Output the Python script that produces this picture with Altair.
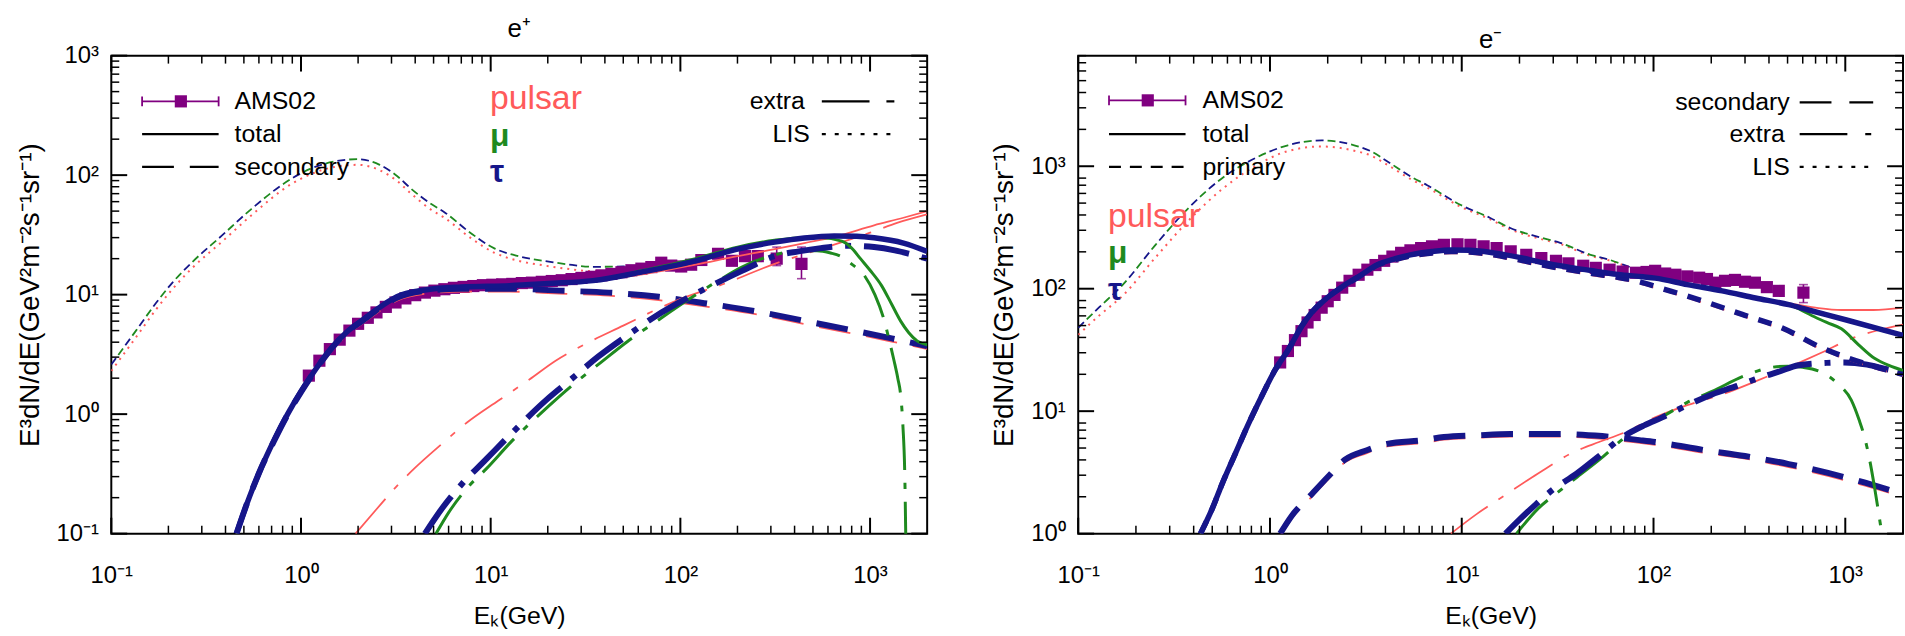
import altair as alt
import pandas as pd

FONT = "Liberation Sans"
RED = "#ff5a5a"
GREEN = "#1f8a1f"
NAVY = "#16168a"
PURPLE = "#800080"

# ======================= e+ panel data =======================
pos_ams_E = [1.1, 1.25, 1.42, 1.6, 1.8, 2.0, 2.25, 2.5, 2.8, 3.15, 3.55, 4.0, 4.5, 5.05, 5.7, 6.4,
             7.2, 8.1, 9.1, 10.2, 11.5, 13.0, 14.6, 16.5, 18.6, 21.0, 23.7, 26.7, 30.1, 34.0, 38.4,
             43.3, 48.9, 55.2, 62.3, 70.3, 79.3, 89.5, 101, 114, 129, 158, 187, 219, 256, 322, 435]
pos_ams_V = [2.1, 2.8, 3.5, 4.2, 5.0, 5.7, 6.4, 7.1, 7.9, 8.6, 9.3, 9.9, 10.4, 10.8, 11.1, 11.4,
             11.6, 11.8, 12.0, 12.1, 12.2, 12.3, 12.5, 12.6, 12.8, 13.0, 13.2, 13.5, 13.8, 14.1, 14.5,
             14.9, 15.4, 16.0, 16.5, 17.0, 18.5, 17.5, 17.2, 17.8, 19.5, 22.0, 19.2, 21.0, 21.0, 20.0, 18.1]
pos_err_E = [129, 158, 187, 219, 256, 322, 435]
pos_err_lo = [18.4, 20.6, 17.8, 19.2, 19.0, 17.5, 13.6]
pos_err_hi = [20.6, 23.4, 20.6, 22.8, 23.0, 25.0, 25.0]

pos_tot_tau_E = [0.457, 0.52, 0.6, 0.73, 0.85, 1.0, 1.2, 1.44, 1.75, 2.16, 2.53, 3.2, 4.6, 7.0, 12.6,
                 20, 34.6, 63, 120, 200, 314, 450, 647, 850, 1050, 1500, 2000]
pos_tot_tau_V = [0.1, 0.18, 0.32, 0.63, 1.0, 1.55, 2.4, 3.55, 4.9, 6.3, 7.6, 9.6, 11.0, 11.6, 11.9,
                 12.4, 13.1, 15.5, 19.2, 24, 27.5, 29.8, 31, 30.8, 29.9, 27, 23]
pos_tot_mu_E = [0.457, 0.52, 0.6, 0.73, 0.85, 1.0, 1.2, 1.44, 1.75, 2.16, 2.53, 3.2, 4.6, 7.0, 12.6,
                20, 34.6, 63, 120, 200, 314, 450, 550, 710, 800, 890, 1000, 1150, 1300, 1450, 1600, 1770, 2000]
pos_tot_mu_V = [0.1, 0.18, 0.32, 0.63, 1.0, 1.55, 2.4, 3.55, 4.9, 6.3, 7.6, 9.6, 11.0, 11.6, 11.9,
                12.4, 13.1, 15.9, 20, 25, 28.5, 30, 30, 28, 24.5, 20, 16, 11.9, 8.3, 6.0, 4.8, 4.1, 3.8]
pos_tot_pul_E = [0.457, 0.52, 0.6, 0.73, 0.85, 1.0, 1.2, 1.44, 1.75, 2.16, 2.53, 3.2, 4.6, 7.0, 12.6,
                 20, 34.6, 63, 120, 200, 314, 450, 650, 1050, 1500, 2000]
pos_tot_pul_V = [0.1, 0.18, 0.32, 0.63, 1.0, 1.55, 2.4, 3.55, 4.9, 6.3, 7.6, 9.6, 11.0, 11.6, 11.9,
                 12.4, 13.1, 14.8, 17.8, 21, 24, 27, 30.5, 38, 44, 50]

pos_sec_E = [0.457, 0.52, 0.6, 0.73, 0.85, 1.0, 1.2, 1.44, 1.75, 2.16, 2.53, 3.2, 4.6, 7.0, 12.6,
             23, 42, 77, 140, 257, 468, 824, 1300, 2000]
pos_sec_tau_V = [0.1, 0.18, 0.32, 0.62, 0.99, 1.53, 2.37, 3.5, 4.85, 6.2, 7.5, 9.4, 10.8, 11.2, 11.2,
                 10.8, 10.4, 9.6, 8.4, 7.2, 5.96, 5.0, 4.3, 3.7]
pos_sec_pul_V = [0.1, 0.17, 0.3, 0.59, 0.94, 1.45, 2.25, 3.3, 4.6, 5.9, 7.1, 8.9, 10.2, 10.6, 10.6,
                 10.2, 9.8, 9.0, 7.9, 6.8, 5.6, 4.7, 4.05, 3.5]

pos_ext_tau_E = [4.5, 5.5, 7.2, 9.2, 13, 19.6, 27, 37, 52, 74, 115, 160, 211, 314, 420, 550, 760,
                 1050, 1350, 1620, 2000]
pos_ext_tau_V = [0.1, 0.16, 0.27, 0.4, 0.7, 1.31, 2.0, 3.04, 4.5, 6.6, 9.8, 12.8, 15.8, 21, 23, 24.5,
                 25.6, 25, 23.5, 21.9, 20]
pos_ext_mu_E = [5.15, 6, 7.5, 9.5, 13, 20, 27, 38, 52, 75, 115, 160, 211, 314, 420, 525, 620, 710,
                800, 935, 1060, 1180, 1260, 1340, 1400, 1450, 1490, 1525, 1545]
pos_ext_mu_V = [0.1, 0.15, 0.24, 0.35, 0.6, 1.15, 1.75, 2.7, 4.0, 6.0, 9.5, 13.2, 17, 21.5, 23.3, 23.3,
                22.3, 20.7, 18, 14.4, 10, 6.3, 4.2, 2.77, 2.0, 1.44, 0.8, 0.3, 0.08]
pos_ext_pul_E = [1.94, 2.5, 3.2, 3.95, 5.5, 7.5, 11, 16, 22, 33, 50, 72, 102, 172, 314, 500, 710,
                 1000, 1400, 2000]
pos_ext_pul_V = [0.1, 0.16, 0.25, 0.35, 0.56, 0.85, 1.3, 1.95, 2.8, 4.0, 5.5, 7.3, 9.3, 12.4, 18.1,
                 23, 27.5, 33, 40, 47]

pos_lis_E = [0.1, 0.135, 0.172, 0.209, 0.265, 0.381, 0.547, 0.887, 1.2, 1.5, 1.99, 2.6, 3.22, 3.77,
             4.8, 5.7, 7.8, 10.4, 14, 18.9, 25, 34.6, 50, 63, 94, 120]
pos_lis_V = [2.6, 5.0, 8.5, 12.5, 18.5, 31, 52, 93, 118, 130, 136, 122, 98, 78, 58, 49, 33, 24.5, 21,
             19.2, 18, 17.1, 17.2, 17.5, 18.1, 19.2]
pos_lis_pul_V = [2.3, 4.4, 7.5, 11, 16.5, 27.5, 46, 84, 106, 117, 122, 110, 89, 71, 52, 44, 30, 22.5,
                 19.2, 17.6, 16.5, 15.7, 15.6, 15.8, 16.8, 17.8]

# ======================= e- panel data =======================
ele_ams_E = [1.13, 1.24, 1.35, 1.46, 1.57, 1.71, 1.86, 2.0, 2.17, 2.38, 2.6, 2.9, 3.22, 3.55, 3.94,
             4.35, 4.83, 5.4, 6.14, 7.0, 8.07, 9.5, 11.1, 13, 15.2, 18, 21.7, 26, 31, 36, 43, 50, 59,
             69, 81, 92, 102, 115, 130, 150, 173, 190, 210, 236, 266, 300, 338, 390, 450, 605]
ele_ams_V = [25, 31, 38, 45, 53, 61, 70, 79, 89, 102, 116, 130, 143, 156, 169, 183, 196, 206, 215, 222,
             228, 230, 228, 222, 215, 202, 189, 178, 169, 161, 154, 148, 143, 138, 135, 137, 140, 133,
             130, 126, 123, 120, 112, 116, 118, 114, 112, 103, 96, 93]
ele_err_E = [390, 450, 605]
ele_err_lo = [98, 90, 77]
ele_err_hi = [108, 102, 108]

ele_tot_E = [0.434, 0.5, 0.563, 0.66, 0.77, 0.9, 1.06, 1.25, 1.47, 1.65, 2.0, 2.45, 3.0, 3.63, 4.5,
             5.4, 7.0, 8.8, 11, 14.7, 20, 26.6, 36, 48, 65, 88, 102, 150, 228, 340, 507, 643, 1037,
             1500, 2000]
ele_tot_tau_V = [1, 1.6, 2.55, 4.5, 7.8, 13, 21.5, 32, 50, 64, 85, 107, 130, 157, 176, 189, 201, 207,
                 206, 196, 180, 163, 150, 140, 131, 125, 122, 108, 96, 84, 74, 67, 55, 47, 41.5]
ele_tot_mu_E = [0.434, 0.5, 0.563, 0.66, 0.77, 0.9, 1.06, 1.25, 1.47, 1.65, 2.0, 2.45, 3.0, 3.63, 4.5,
                5.4, 7.0, 8.8, 11, 14.7, 20, 26.6, 36, 48, 65, 88, 102, 150, 228, 340, 507, 600, 690,
                800, 955, 1170, 1420, 1700, 2000]
ele_tot_mu_V = [1, 1.6, 2.55, 4.5, 7.8, 13, 21.5, 32, 50, 64, 85, 107, 130, 157, 176, 189, 201, 207,
                206, 196, 180, 163, 150, 140, 131, 125, 122, 108, 96, 84, 74, 66, 59, 53, 47, 35, 27,
                23.5, 21.5]
ele_tot_pul_E = [0.434, 0.5, 0.563, 0.66, 0.77, 0.9, 1.06, 1.25, 1.47, 1.65, 2.0, 2.45, 3.0, 3.63, 4.5,
                 5.4, 7.0, 8.8, 11, 14.7, 20, 26.6, 36, 48, 65, 88, 102, 150, 228, 340, 507, 700, 955,
                 1400, 2000]
ele_tot_pul_V = [1, 1.6, 2.55, 4.5, 7.8, 13, 21.5, 32, 50, 64, 85, 107, 130, 157, 176, 189, 201, 207,
                 206, 196, 180, 163, 150, 140, 131, 125, 122, 108, 96, 85, 76, 70, 67, 67, 70]

ele_pri_E = [0.434, 0.5, 0.563, 0.66, 0.77, 0.9, 1.06, 1.25, 1.47, 1.65, 2.0, 2.45, 3.0, 3.63, 4.5,
             5.4, 7.0, 8.8, 11, 14.7, 20, 26.6, 36, 48, 65, 84.5, 107, 180, 290, 466, 751, 1320, 2000]
ele_pri_tau_V = [1, 1.6, 2.55, 4.5, 7.8, 13, 21.5, 32, 50, 64, 85, 106, 129, 155, 173, 185, 196, 201,
                 199, 189, 172, 156, 143, 133, 124, 114, 102, 79.6, 61.7, 48, 33, 24, 20]
ele_pri_pul_V = [0.97, 1.55, 2.47, 4.4, 7.6, 12.6, 20.9, 31, 48.5, 62, 82.5, 103, 125, 150, 168, 179,
                 190, 195, 193, 183, 167, 151, 139, 129, 120, 110.5, 99, 77, 60, 46.5, 32, 23.3, 19.4]

ele_sec_E = [1.13, 1.3, 1.65, 2.0, 2.45, 3.2, 4.08, 6.35, 8.07, 12, 17.9, 32.6, 54, 84.5, 102, 186,
             300, 507, 1115, 2000]
ele_sec_tau_V = [1, 1.4, 2.1, 2.9, 4.0, 4.8, 5.4, 5.8, 6.15, 6.35, 6.5, 6.5, 6.26, 5.8, 5.6, 4.8, 4.3,
                 3.7, 2.75, 2.1]
ele_sec_pul_V = [0.95, 1.33, 2.0, 2.75, 3.8, 4.55, 5.15, 5.5, 5.85, 6.05, 6.2, 6.2, 5.95, 5.5, 5.3,
                 4.55, 4.1, 3.5, 2.6, 2.0]

ele_ext_tau_E = [16.9, 20, 24.5, 30, 39.5, 52, 69, 90, 111, 150, 202, 270, 338, 450, 570, 800, 990,
                 1300, 1670, 2000]
ele_ext_tau_V = [1, 1.3, 1.75, 2.3, 3.07, 4.3, 6.15, 7.7, 8.9, 11.2, 13.7, 16, 18.2, 21, 23.7, 24.8,
                 25, 24, 21.9, 20.8]
ele_ext_mu_E = [19.3, 25, 32, 40, 55, 70, 90, 111, 150, 202, 300, 414, 500, 600, 751, 920, 1075, 1180,
                1260, 1340, 1420, 1500, 1540, 1580]
ele_ext_mu_V = [1, 1.6, 2.2, 2.9, 4.3, 6.0, 7.6, 9.0, 11.8, 14.5, 19.5, 22.8, 23.3, 22.8, 20.8, 16.6,
                12.3, 8.5, 6.15, 4.0, 2.4, 1.4, 1.07, 0.8]
ele_ext_pul_E = [8.77, 12, 17.1, 25, 38, 52, 69, 102, 150, 228, 340, 507, 750, 1115, 1500, 2000]
ele_ext_pul_V = [1, 1.45, 2.1, 3.1, 4.6, 5.6, 6.6, 8.9, 11.2, 13.7, 17.5, 22.8, 30, 40, 46, 51]

ele_lis_E = [0.1, 0.128, 0.171, 0.253, 0.376, 0.563, 0.836, 1.24, 1.86, 2.75, 3.37, 4.08, 5.45, 6.6,
             9.9, 14, 17.9, 25, 32.6, 46.5, 59, 80.7, 102]
ele_lis_V = [48, 70, 108, 228, 456, 799, 1162, 1483, 1627, 1483, 1324, 1100, 820, 700, 482, 380, 313,
             265, 237, 190, 172, 145, 132]
ele_lis_pul_V = [42, 60, 88, 180, 360, 650, 1000, 1330, 1450, 1340, 1220, 1030, 780, 670, 465, 370, 305,
                 258, 232, 186, 170, 143, 130]

# axis tick values
x_major = [0.1, 1, 10, 100, 1000]
x_minor = [m * d for d in (0.1, 1, 10, 100) for m in range(2, 10)]
yL_major = [0.1, 1, 10, 100, 1000]
yL_minor = [m * d for d in (0.1, 1, 10, 100) for m in range(2, 10)]
yR_major = [1, 10, 100, 1000]
yR_minor = [m * d for d in (1, 10, 100, 1000) for m in range(2, 9)]

LBL = ("datum.value < 0.5 ? '10⁻¹' : datum.value < 5 ? '10⁰' : datum.value < 50 ? '10¹' : "
       "datum.value < 500 ? '10²' : '10³'")
YTITLE = "E³dN/dE(GeV²m⁻²s⁻¹sr⁻¹)"
XTITLE = "Eₖ(GeV)"

one = pd.DataFrame({"k": [0]})

DASH_SEC = [32, 16]
DASH_EXT = [46, 13, 6, 13]
DASH_PRI = [14, 11]
DASH_LIS = [8, 16]
DASH_DOT = [2, 5]


def make_panel(W, H, ydom, ymaj, ymin, title, build):
    xs = alt.Scale(type="log", domain=[0.1, 2000], nice=False)
    ys = alt.Scale(type="log", domain=ydom, nice=False)
    xax = alt.Axis(values=x_major, labelExpr=LBL, title=XTITLE, grid=False, ticks=False,
                   domain=False, labelFont=FONT, labelFontSize=24, labelPadding=30,
                   labelColor="black", labelFlush=False, labelOverlap=False,
                   titleFont=FONT, titleFontSize=25, titleFontWeight="normal",
                   titleColor="black", titlePadding=16)
    yax = alt.Axis(values=ymaj, labelExpr=LBL, title=YTITLE, grid=False, ticks=False,
                   domain=False, labelFont=FONT, labelFontSize=24, labelPadding=13,
                   labelColor="black", labelFlush=False, labelOverlap=False,
                   titleFont=FONT, titleFontSize=28, titleFontWeight="normal",
                   titleColor="black", titlePadding=12)

    def X(f):
        return alt.X(f, scale=xs, axis=xax)

    def Y(f):
        return alt.Y(f, scale=ys, axis=yax)

    def line(E, V, color, width, dash=None, offset=None):
        kw = dict(color=color, strokeWidth=width, clip=True, interpolate="monotone",
                  strokeCap="butt")
        if dash:
            kw["strokeDash"] = dash
        if offset:
            kw["strokeDashOffset"] = offset
        return alt.Chart(pd.DataFrame({"E": E, "V": V})).mark_line(**kw).encode(
            x=X("E:Q"), y=Y("V:Q"))

    def data(E, V, eE, lo, hi):
        sq = alt.Chart(pd.DataFrame({"E": E, "V": V})).mark_square(
            size=150, color=PURPLE, opacity=1, clip=True).encode(x=X("E:Q"), y=Y("V:Q"))
        edf = pd.DataFrame({"E": eE, "lo": lo, "hi": hi})
        bar = alt.Chart(edf).mark_rule(color=PURPLE, strokeWidth=1.6).encode(
            x=X("E:Q"), y=Y("lo:Q"), y2="hi:Q")
        c1 = alt.Chart(edf).mark_tick(orient="horizontal", size=9, thickness=1.6,
                                      color=PURPLE).encode(x=X("E:Q"), y=Y("lo:Q"))
        c2 = alt.Chart(edf).mark_tick(orient="horizontal", size=9, thickness=1.6,
                                      color=PURPLE).encode(x=X("E:Q"), y=Y("hi:Q"))
        return [sq, bar, c1, c2]

    def ticks():
        out = []
        for vals, L, w in ((x_major, 16, 2), (x_minor, 8, 1.5)):
            d = alt.Chart(pd.DataFrame({"t": vals})).mark_rule(color="black", strokeWidth=w)
            out.append(d.encode(x=X("t:Q"), y=alt.value(0), y2=alt.value(L)))
            out.append(d.encode(x=X("t:Q"), y=alt.value(H), y2=alt.value(H - L)))
        for vals, L, w in ((ymaj, 16, 2), (ymin, 8, 1.5)):
            d = alt.Chart(pd.DataFrame({"t": vals})).mark_rule(color="black", strokeWidth=w)
            out.append(d.encode(y=Y("t:Q"), x=alt.value(0), x2=alt.value(L)))
            out.append(d.encode(y=Y("t:Q"), x=alt.value(W), x2=alt.value(W - L)))
        return out

    layers = build(line, data) + ticks()
    return alt.layer(*layers).properties(
        width=W, height=H,
        title=alt.TitleParams(title, font=FONT, fontSize=26, fontWeight="normal",
                              color="black", offset=2))


def ltext(txt, x, y, color="black", size=25, align="left", weight="normal"):
    return alt.Chart(one).mark_text(text=txt, font=FONT, fontSize=size, color=color, align=align,
                                    baseline="middle", fontWeight=weight).encode(
        x=alt.value(x), y=alt.value(y))


def lline(x1, x2, y, dash=None, width=2.2, color="black"):
    kw = dict(color=color, strokeWidth=width, strokeCap="butt")
    if dash:
        kw["strokeDash"] = dash
    return alt.Chart(one).mark_rule(**kw).encode(x=alt.value(x1), x2=alt.value(x2), y=alt.value(y))


def ams_legend(y, xt):
    return [
        lline(31, 108, y, width=1.8, color=PURPLE),
        alt.Chart(one).mark_rule(color=PURPLE, strokeWidth=1.8).encode(
            x=alt.value(31), y=alt.value(y - 5), y2=alt.value(y + 5)),
        alt.Chart(one).mark_rule(color=PURPLE, strokeWidth=1.8).encode(
            x=alt.value(108), y=alt.value(y - 5), y2=alt.value(y + 5)),
        alt.Chart(one).mark_square(size=150, color=PURPLE, opacity=1).encode(
            x=alt.value(70), y=alt.value(y)),
        ltext("AMS02", xt, y),
    ]


def build_left(line, data):
    L = []
    L.append(line(pos_lis_E, pos_lis_pul_V, RED, 2, DASH_DOT))
    L.append(line(pos_lis_E, pos_lis_V, GREEN, 1.8, DASH_LIS, 12))
    L.append(line(pos_lis_E, pos_lis_V, NAVY, 1.8, DASH_LIS))
    L += data(pos_ams_E, pos_ams_V, pos_err_E, pos_err_lo, pos_err_hi)
    L.append(line(pos_sec_E, pos_sec_pul_V, RED, 1.8, DASH_SEC))
    L.append(line(pos_sec_E, pos_sec_tau_V, NAVY, 6, DASH_SEC))
    L.append(line(pos_ext_pul_E, pos_ext_pul_V, RED, 1.8, DASH_EXT))
    L.append(line(pos_ext_mu_E, pos_ext_mu_V, GREEN, 3, DASH_EXT))
    L.append(line(pos_ext_tau_E, pos_ext_tau_V, NAVY, 6, DASH_EXT))
    L.append(line(pos_tot_pul_E, pos_tot_pul_V, RED, 1.8))
    L.append(line(pos_tot_mu_E, pos_tot_mu_V, GREEN, 3))
    L.append(line(pos_tot_tau_E, pos_tot_tau_V, NAVY, 5.5))
    # legend
    L += ams_legend(46, 124)
    L += [lline(31, 108, 79), ltext("total", 124, 79),
          lline(31, 108, 112, DASH_SEC), ltext("secondary", 124, 112),
          ltext("pulsar", 381, 44, RED, 34), ltext("μ", 381, 81, GREEN, 32, weight="bold"),
          ltext("τ", 381, 117, NAVY, 32, weight="bold"),
          ltext("extra", 698, 46, align="right"), lline(715, 788, 46, [48, 17, 8, 17]),
          ltext("LIS", 703, 79, align="right"), lline(715, 788, 79, [4, 9])]
    return L


def build_right(line, data):
    L = []
    L.append(line(ele_lis_E, ele_lis_pul_V, RED, 2, DASH_DOT))
    L.append(line(ele_lis_E, ele_lis_V, GREEN, 1.8, DASH_LIS, 12))
    L.append(line(ele_lis_E, ele_lis_V, NAVY, 1.8, DASH_LIS))
    L += data(ele_ams_E, ele_ams_V, ele_err_E, ele_err_lo, ele_err_hi)
    L.append(line(ele_sec_E, ele_sec_pul_V, RED, 1.8, DASH_SEC))
    L.append(line(ele_sec_E, ele_sec_tau_V, NAVY, 6, DASH_SEC))
    L.append(line(ele_ext_pul_E, ele_ext_pul_V, RED, 1.8, DASH_EXT))
    L.append(line(ele_ext_mu_E, ele_ext_mu_V, GREEN, 3, DASH_EXT))
    L.append(line(ele_ext_tau_E, ele_ext_tau_V, NAVY, 6, DASH_EXT))
    L.append(line(ele_pri_E, ele_pri_pul_V, RED, 2, DASH_PRI))
    L.append(line(ele_pri_E, ele_pri_tau_V, NAVY, 5.5, DASH_PRI))
    L.append(line(ele_tot_pul_E, ele_tot_pul_V, RED, 1.8))
    L.append(line(ele_tot_mu_E, ele_tot_mu_V, GREEN, 3))
    L.append(line(ele_tot_E, ele_tot_tau_V, NAVY, 5.5))
    # legend
    L += ams_legend(45, 125)
    L += [lline(31, 108, 79), ltext("total", 125, 79),
          lline(31, 108, 112, [12, 9]), ltext("primary", 125, 112),
          ltext("pulsar", 30, 162, RED, 34), ltext("μ", 30, 199, GREEN, 32, weight="bold"),
          ltext("τ", 30, 236, NAVY, 32, weight="bold"),
          ltext("secondary", 716, 47, align="right"), lline(726, 800, 47, [32, 18]),
          ltext("extra", 711, 79, align="right"), lline(726, 800, 79, [48, 18, 6, 18]),
          ltext("LIS", 716, 112, align="right"), lline(726, 800, 112, [4, 9])]
    return L


left = make_panel(821, 481, [0.1, 1000], yL_major, yL_minor, "e⁺", build_left)
right = make_panel(830, 481, [1, 8000], yR_major, yR_minor, "e⁻", build_right)

chart = alt.hconcat(left, right, spacing=61).properties(
    padding={"left": 15, "top": 13, "right": 0, "bottom": 2}
).configure_view(stroke="black", strokeWidth=2)

chart.save("out.html", embed_options={"renderer": "svg", "actions": False})
